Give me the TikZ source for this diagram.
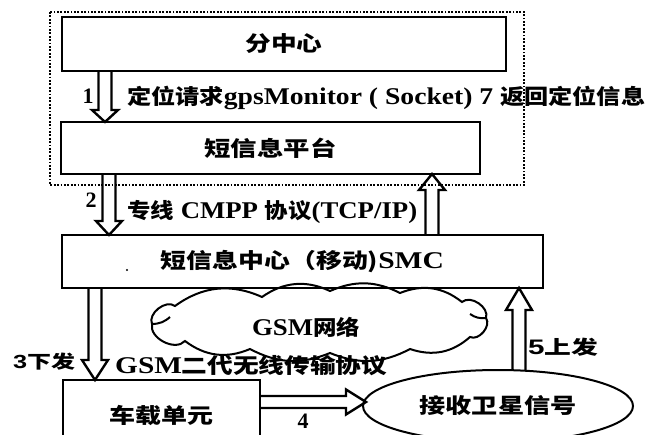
\documentclass[tikz,border=0pt]{standalone}
\usepackage{fontspec}
\usepackage{graphicx}
\setmainfont{Liberation Serif}
\newfontfamily\cjk{Noto Sans CJK SC}
\newfontfamily\lsans{Liberation Sans}
\usetikzlibrary{shapes.geometric}
\newcommand\zh[1]{{\cjk\bfseries\fontsize{21}{25}\selectfont #1}}
\newcommand\fitw[2]{\resizebox{#1pt}{\height}{#2}}
% vertical hollow block arrow: x, y start, y tip, head length
\newcommand\varrow[4]{%
  \pgfmathsetmacro\yb{#3>#2 ? #3-#4 : #3+#4}%
  \draw[blkarrow] (#1-6.5,#2) -- (#1-6.5,\yb) -- (#1-13,\yb) -- (#1,#3) -- (#1+13,\yb) -- (#1+6.5,\yb) -- (#1+6.5,#2);}
% horizontal hollow block arrow: y, x start, x tip, head length
\newcommand\harrow[4]{%
  \pgfmathsetmacro\xb{#3>#2 ? #3-#4 : #3+#4}%
  \draw[blkarrow] (#2,#1-6) -- (\xb,#1-6) -- (\xb,#1-12.5) -- (#3,#1) -- (\xb,#1+12.5) -- (\xb,#1+6) -- (#2,#1+6);}
\begin{document}
\begin{tikzpicture}[x=1pt,y=-1pt,
  box/.style={draw, line width=2.3pt, inner sep=0pt, font=\bfseries\fontsize{24}{28}\selectfont},
  lbl/.style={inner sep=0pt, font=\bfseries\fontsize{24}{28}\selectfont},
  numlbl/.style={inner sep=0pt, font=\bfseries\fontsize{22}{26}\selectfont},
  blkarrow/.style={draw, line width=2.4pt, line join=miter},
  cloudline/.style={draw, line width=2pt, line join=miter},
  frame/.style={line width=2pt, dash pattern=on 1.8pt off 1.6pt}]
\useasboundingbox (0,0) rectangle (648,434);
% dotted frame
\draw[frame] (50,12) rectangle (524,185);
% cloud
\coordinate (c1) at (175,306);
\coordinate (c2) at (262,297);
\coordinate (c3) at (330,291);
\coordinate (c4) at (400,293);
\coordinate (c5) at (462,302);
\coordinate (c6) at (486,318);
\coordinate (c7) at (470,337);
\coordinate (c8) at (410,349);
\coordinate (c9) at (330,353);
\coordinate (c10) at (250,349);
\coordinate (c11) at (185,341);
\coordinate (c12) at (152,324);
\draw[cloudline] (c1) to[bend left=30] (c2) to[bend left=30] (c3) to[bend left=25] (c4)
  to[bend left=30] (c5) to[bend left=75] (c6) to[bend left=75] (c7) to[bend left=30] (c8)
  to[bend left=25] (c9) to[bend left=25] (c10) to[bend left=30] (c11) to[bend left=75] (c12)
  to[bend left=75] cycle;
\draw[cloudline] (c12) to[bend right=20] (170,317);
\draw[cloudline] (c6) to[bend left=20] (470,314);
\node[lbl] (gsm) at (306,327) {\fitw{108}{GSM\zh{网络}}};
% boxes
\node[box, minimum width=444, minimum height=54] (fzx) at (284,44) {\fitw{77}{\zh{分中心}}};
\node[box, minimum width=419, minimum height=52] (ptf) at (270.5,148) {\fitw{132}{\zh{短信息平台}}};
\node[box, minimum width=481, minimum height=53] (smc) at (302.5,261.5) {\fitw{283}{\zh{短信息中心（移动)}SMC}};
\node[box, minimum width=197, minimum height=70] (car) at (161.5,415) {\fitw{104}{\zh{车载单元}}};
\node[ellipse, draw, line width=2pt, inner sep=0pt, minimum width=270, minimum height=72,
      font=\bfseries\fontsize{24}{28}\selectfont] (sat) at (498,406) {\fitw{157}{\zh{接收卫星信号}}};
% arrows
\varrow{105}{71}{122}{12}
\varrow{109}{174}{235}{14}
\varrow{432}{235}{174}{16}
\varrow{95}{288}{380}{20}
\varrow{519}{370}{288}{22}
\harrow{402}{260}{366}{20}
% labels
\node[numlbl] (l1) at (88,96) {1};
\node[lbl, anchor=west] (t1) at (127,98) {\fitw{518}{\zh{定位请求}gpsMonitor ( Socket) 7 \zh{返回定位信息}}};
\node[numlbl] (l2) at (91,200) {2};
\node[lbl, anchor=west] (t2) at (127,212) {\fitw{290}{\zh{专线} CMPP \zh{协议}(TCP/IP)}};
\node[lbl, anchor=west] (t3) at (13,362) {\fitw{62}{{\lsans\bfseries\fontsize{19}{22}\selectfont 3}{\cjk\bfseries\fontsize{18}{22}\selectfont 下发}}};
\node[lbl, anchor=west] (t4) at (115,366) {\fitw{272}{GSM\zh{二代无线传输协议}}};
\node[numlbl] (l4) at (303,421) {4};
\node[lbl, anchor=west] (t5) at (528,347) {\fitw{70}{{\lsans\bfseries\fontsize{21}{24}\selectfont 5}{\cjk\bfseries\fontsize{19}{23}\selectfont 上发}}};
\fill (127,270) circle (1.2);
\end{tikzpicture}
\end{document}
